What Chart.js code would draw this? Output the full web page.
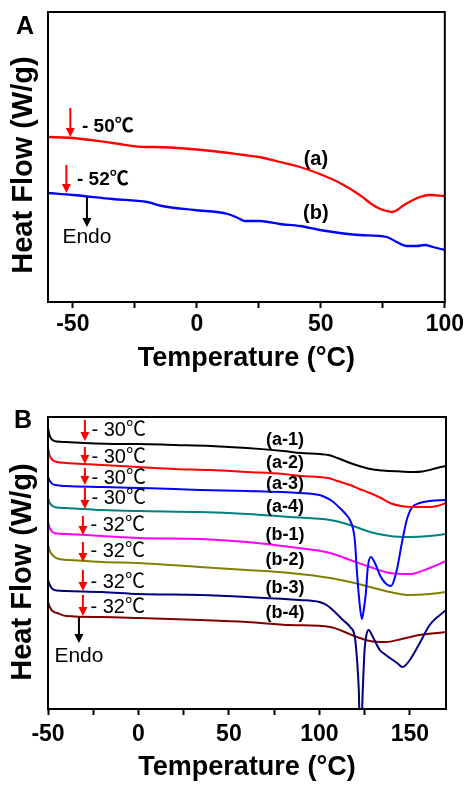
<!DOCTYPE html>
<html><head><meta charset="utf-8">
<script src="https://cdn.jsdelivr.net/npm/chart.js@4.4.1/dist/chart.umd.min.js"></script>
<style>
html,body{margin:0;padding:0;background:#fff;}
#wrapA{position:absolute;left:0;top:0;width:467px;height:390px;}
#wrapB{position:absolute;left:0;top:390px;width:467px;height:397px;}
</style></head><body>
<div id="wrapA"><canvas id="cA"></canvas></div>
<div id="wrapB"><canvas id="cB"></canvas></div>
<script>
// ---------- Panel A data: [temperature °C, heat flow (arbitrary units)] ----------
const curveA_a = [[-60,165],[-50,164],[-34,159],[-21,155],[-18,155],[-8,154],[6,151],[19,147],[25,145],[33.5,140],[41.6,135],[49.6,128],[57.7,119],[65.7,107],[71,97],[74,93],[76.5,91],[78.6,90],[80.5,91.5],[83,96],[86,100.5],[89.9,105],[93.9,107],[100,106]];
const curveA_b = [[-60,109],[-50,107],[-34,103],[-20,100],[-14,96],[-1,92],[12.5,88],[16.6,84],[19.4,81],[25.4,81],[33.5,78],[41.6,76],[49.6,72],[57.7,69],[65.7,67],[76.6,65],[80.6,60],[84.7,56],[88.7,56],[91.9,57],[95.2,55],[100,52]];
const namesA = ['(a)','(b)'];
const colorsA = ['#ff0000','#0000ff'];

// ---------- Panel B data ----------
const curveB_a1 = [[-50,281],[-49,273],[-47.5,269],[-45,267.5],[-40,267],[-30,266],[-10,265],[0,265],[20,264],[40,263],[60,261],[80,258],[90,256],[100,255],[105,254],[110,251],[117,246],[122,243],[128,240],[135,238.5],[145,237.5],[152,237],[157,237.5],[162,239.5],[166,241.5],[170,243]];
const curveB_a2 = [[-50,261],[-49,253],[-47.5,249],[-45,247],[-40,246],[-30,245],[0,242],[20,240],[40,239],[60,237],[80,235],[90,233],[100,232],[105,231],[110,228],[117,224],[122,220],[128,216],[134,211],[139,206],[145,203],[151,202],[156,202],[161,202],[165,203],[170,206]];
const curveB_a3 = [[-50,232],[-49,228],[-47.5,225],[-46,224],[-40,223],[-20,222],[0,221],[20,220],[34,219],[60,218],[89,216],[100,214],[103,212],[107,208],[111.3,201],[114,196],[116.9,189],[118.5,181],[119.6,169],[120.7,139],[122,110],[123.5,90],[124.6,100],[125.7,116],[126.8,142],[128.5,152],[130.7,146],[134,132],[137,125],[139.5,123],[142.8,139],[145.6,166],[148.3,189],[151,201],[155.5,206],[161,208],[170,209]];
const curveB_a4 = [[-50,211],[-49,206],[-47.5,203],[-45,201.5],[-40,201],[-20,199],[0,198],[34,197],[60,195],[84,192],[106,189],[117,184],[128,177],[139,173],[150,172],[161,173],[170,175]];
const curveB_b1 = [[-50,187],[-49,181],[-47.5,177],[-45,175.5],[-40,175],[-20,173],[0,171],[34,170],[60,167],[84,162],[106,156],[117,149],[128,142],[139,136],[150,135],[161,141],[170,148]];
const curveB_b2 = [[-50,164],[-49,158],[-47,153],[-44,150],[-38,149],[-20,147],[0,146],[34,142],[60,139],[84,136],[106,131],[117,127],[128,122],[139,117],[150,114],[161,115],[170,117]];
const curveB_b3 = [[-50,129],[-49,124],[-47.5,120],[-45,118.5],[-40,118],[-20,117],[0,115],[34,114],[60,112],[89,109],[100,107],[104,104],[108.6,97],[113,89],[117,82],[119.6,72],[120.7,52],[121.8,19],[122.4,-20],[123.2,-20],[124,19],[125,59],[126,74],[127.2,79],[129.6,72],[133.4,59],[136,55],[139,51],[143,46],[146,42],[150,49],[155.5,66],[161,84],[170,99]];
const curveB_b4 = [[-50,107],[-49,102],[-47.5,98],[-45,96],[-40,93],[-20,92],[0,91],[34,89],[60,87],[84,84],[106,82],[114,77],[120.7,72],[128,68],[136.7,67],[145.6,70],[155.5,74],[170,77]];
const namesB = ['(a-1)','(a-2)','(a-3)','(a-4)','(b-1)','(b-2)','(b-3)','(b-4)'];
const colorsB = ['#000000','#ff0000','#0000ff','#008080','#ff00ff','#808000','#000080','#800000'];
const onsetB = ['- 30℃','- 30℃','- 30℃','- 30℃','- 32℃','- 32℃','- 32℃','- 32℃'];
const onsetA = ['- 50℃','- 52℃'];
const ticksMajor = 50;

const FAM = '"Liberation Sans", Arial, "Noto Sans CJK SC", sans-serif';

const decor = {
  id: 'decor',
  afterDatasetsDraw(chart, args, o) {
    const {ctx, chartArea: ca, scales: {x, y}} = chart;
    ctx.save();
    ctx.strokeStyle = '#000'; ctx.lineWidth = 2;
    ctx.strokeRect(ca.left, ca.top, ca.right - ca.left, ca.bottom - ca.top);
    ctx.fillStyle = '#000';
    ctx.textBaseline = 'middle';
    ctx.textAlign = 'center';
    ctx.font = 'bold 25px ' + FAM;
    ctx.fillText(o.letter, o.letterX, o.letterY);
    ctx.save();
    ctx.translate(o.yTitleX, o.yTitleY); ctx.rotate(-Math.PI/2);
    ctx.font = 'bold 29px ' + FAM;
    ctx.fillText('Heat Flow (W/g)', 0, 0);
    ctx.restore();
    for (const a of o.arrows) {
      const px = x.getPixelForValue(a.x), p0 = y.getPixelForValue(a.from), p1 = y.getPixelForValue(a.to);
      ctx.strokeStyle = a.color; ctx.fillStyle = a.color; ctx.lineWidth = 2;
      ctx.beginPath(); ctx.moveTo(px, p0); ctx.lineTo(px, p1 - 6); ctx.stroke();
      ctx.beginPath(); ctx.moveTo(px - 4.5, p1 - 9); ctx.lineTo(px + 4.5, p1 - 9); ctx.lineTo(px, p1); ctx.closePath(); ctx.fill();
    }
    for (const t of o.texts) {
      ctx.fillStyle = '#000';
      ctx.font = t.font;
      ctx.textAlign = t.align;
      ctx.fillText(t.text, x.getPixelForValue(t.x), y.getPixelForValue(t.y));
    }
    ctx.restore();
  }
};

function xScale(min, max, height, tickPad, titlePad) {
  return {
    type: 'linear', min, max,
    afterFit: s => { s.height = height; },
    ticks: { stepSize: 25, includeBounds: false, autoSkip: false, maxRotation: 0, padding: tickPad,
      color: '#000', font: { family: FAM, size: 23, weight: 'bold' },
      callback: v => (v % ticksMajor === 0 ? String(v) : '') },
    grid: { display: true, drawOnChartArea: false, drawTicks: true, tickLength: 6, tickWidth: 2, tickColor: '#000' },
    border: { display: false },
    title: { display: true, text: 'Temperature (°C)', color: '#000',
      font: { family: FAM, size: 27, weight: 'bold' }, padding: { top: 0, bottom: titlePad } }
  };
}
function yScale(max) {
  return { min: 0, max, afterFit: s => { s.width = 48; },
    ticks: { display: false }, grid: { display: false }, border: { display: false } };
}
function ds(points, color, width) {
  return { data: points.map(p => ({ x: p[0], y: p[1] })), borderColor: color, borderWidth: width,
    pointRadius: 0, cubicInterpolationMode: 'monotone', fill: false };
}

const curvesA = [curveA_a, curveA_b];
new Chart(document.getElementById('cA'), {
  type: 'line',
  data: { datasets: curvesA.map((c, i) => ds(c, colorsA[i], 2.3)) },
  options: {
    responsive: true, maintainAspectRatio: false, animation: false, devicePixelRatio: 1,
    layout: { padding: { left: 0, right: 22, top: 12, bottom: 0 } },
    plugins: { legend: { display: false }, tooltip: { enabled: false },
      decor: {
        letter: 'A', letterX: 25, letterY: 27, yTitleX: 24, yTitleY: 165,
        arrows: [
          { x: -51, from: 194, to: 165, color: '#ff0000' },
          { x: -52.6, from: 137, to: 109, color: '#ff0000' },
          { x: -44.3, from: 105, to: 75, color: '#000000' }
        ],
        texts: [
          { text: onsetA[0], x: -46.3, y: 175, align: 'left', font: 'bold 19px ' + FAM },
          { text: onsetA[1], x: -48.3, y: 122, align: 'left', font: 'bold 19px ' + FAM },
          { text: 'Endo', x: -44.3, y: 65, align: 'center', font: '21px ' + FAM },
          { text: namesA[0], x: 48, y: 143, align: 'center', font: 'bold 20px ' + FAM },
          { text: namesA[1], x: 48, y: 89, align: 'center', font: 'bold 20px ' + FAM }
        ]
      } },
    scales: { x: xScale(-60, 100, 88, 3, 15), y: yScale(290) }
  },
  plugins: [decor]
});

const curvesB = [curveB_a1, curveB_a2, curveB_a3, curveB_a4, curveB_b1, curveB_b2, curveB_b3, curveB_b4];
const arrowFromB = [289, 262, 241, 221, 193, 167, 139, 114];
const arrowToB = [268, 245, 224, 200, 174, 147, 118, 93];
const onsetTextYB = [279, 252, 231, 211, 184, 158, 127, 102];
const labelYB = [269, 246, 225, 202, 174, 149, 121, 96];
const textsB = [];
const arrowsB = [];
for (let i = 0; i < 8; i++) {
  const ax = i < 4 ? -29.6 : -30.7;
  arrowsB.push({ x: ax, from: arrowFromB[i], to: arrowToB[i], color: '#ff0000' });
  textsB.push({ text: onsetB[i], x: i < 4 ? -26 : -26.5, y: onsetTextYB[i], align: 'left', font: '20px ' + FAM });
  textsB.push({ text: namesB[i], x: 81, y: labelYB[i], align: 'center', font: 'bold 18px ' + FAM });
}
arrowsB.push({ x: -32.9, from: 92, to: 66, color: '#000000' });
textsB.push({ text: 'Endo', x: -32.9, y: 53, align: 'center', font: '21px ' + FAM });

new Chart(document.getElementById('cB'), {
  type: 'line',
  data: { datasets: curvesB.map((c, i) => ds(c, colorsB[i], 2)) },
  options: {
    responsive: true, maintainAspectRatio: false, animation: false, devicePixelRatio: 1,
    layout: { padding: { left: 0, right: 21, top: 27, bottom: 0 } },
    plugins: { legend: { display: false }, tooltip: { enabled: false },
      decor: { letter: 'B', letterX: 23, letterY: 31, yTitleX: 23, yTitleY: 182, arrows: arrowsB, texts: textsB } },
    scales: { x: xScale(-50, 170, 78, 6, 3), y: yScale(292) }
  },
  plugins: [decor]
});
</script>
</body></html>
